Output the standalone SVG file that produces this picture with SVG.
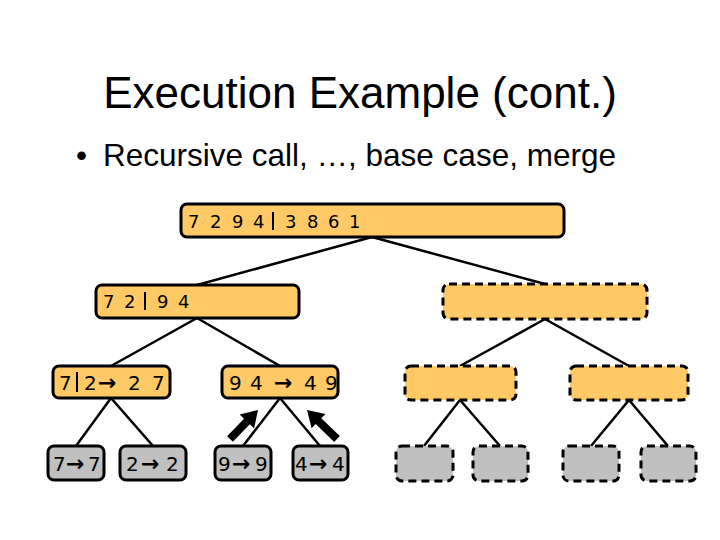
<svg xmlns="http://www.w3.org/2000/svg" width="720" height="540" viewBox="0 0 720 540">
<style>
.title{font-family:"Liberation Sans",Arial,sans-serif;font-size:44px;fill:#000}
.bul{font-family:"Liberation Sans",Arial,sans-serif;font-size:31.5px;fill:#000}
.or{fill:#FFCA66;stroke:#000;stroke-width:3}
.gr{fill:#C0C0C0;stroke:#000;stroke-width:3}
.dash{stroke-dasharray:8 5}
.t{font-family:"DejaVu Sans",Verdana,sans-serif;font-size:18px;fill:#000}
.t3{font-family:"DejaVu Sans",Verdana,sans-serif;font-size:20px;fill:#000}
.ar{font-size:22px;font-weight:bold}
.bar{stroke:#000;stroke-width:2}
.c line{stroke:#000;stroke-width:2.5}
.big{fill:#000}
</style>
<rect width="720" height="540" fill="#fff"/>
<text class="title" x="360" y="108" text-anchor="middle">Execution Example (cont.)</text>
<text class="bul" x="76" y="166">•</text>
<text class="bul" x="103" y="166">Recursive call, …, base case, merge</text>

<g id="connectors" class="c">
<line x1="372" y1="237" x2="197" y2="285"/>
<line x1="372" y1="237" x2="545" y2="284"/>
<line x1="197" y1="318" x2="111" y2="366"/>
<line x1="197" y1="318" x2="280" y2="366"/>
<line x1="545" y1="319" x2="460" y2="366"/>
<line x1="545" y1="319" x2="629" y2="366"/>
<line x1="111" y1="398" x2="76" y2="446"/>
<line x1="111" y1="398" x2="153" y2="446"/>
<line x1="280" y1="398" x2="243" y2="446"/>
<line x1="280" y1="398" x2="320" y2="446"/>
<line x1="460" y1="400" x2="424" y2="446"/>
<line x1="460" y1="400" x2="500" y2="446"/>
<line x1="629" y1="400" x2="591" y2="446"/>
<line x1="629" y1="400" x2="668" y2="446"/>
<polygon class="big" points="232.9,441.8 249.8,424.3 254.1,428.5 258,410 239.7,414.6 244.0,418.7 227.1,436.2"/>
<polygon class="big" points="339.8,436.1 321.3,418.2 325.5,413.9 307,410 311.6,428.3 315.7,424.0 334.2,441.9"/>
</g>

<g id="root">
<rect class="or" x="181" y="204" width="383" height="33" rx="6"/>
<text class="t" x="188 210 232 253" y="228">7294</text>
<line class="bar" x1="273" y1="212" x2="273" y2="230"/>
<text class="t" x="285 307 328 349" y="228">3861</text>
</g>

<g id="mid-left">
<rect class="or" x="96" y="285" width="203" height="33" rx="6"/>
<text class="t" x="103 124" y="308">72</text>
<line class="bar" x1="145" y1="292" x2="145" y2="310"/>
<text class="t" x="157 178" y="308">94</text>
</g>

<g id="mid-right">
<rect class="or dash" x="443" y="284" width="204" height="35" rx="6"/>
</g>

<g id="l3-a">
<rect class="or" x="53" y="366" width="117" height="32" rx="6"/>
<text class="t3" x="59" y="390">7</text>
<line class="bar" x1="77" y1="372" x2="77" y2="392"/>
<text class="t3" y="390"><tspan x="84">2</tspan><tspan class="ar" x="98">→</tspan><tspan x="128">2</tspan><tspan x="152">7</tspan></text>
</g>

<g id="l3-b">
<rect class="or" x="222" y="366" width="116" height="32" rx="6"/>
<text class="t3" y="390"><tspan x="229">9</tspan><tspan x="250">4</tspan><tspan class="ar" x="274">→</tspan><tspan x="304">4</tspan><tspan x="325">9</tspan></text>
</g>

<g id="l3-c">
<rect class="or dash" x="405" y="366" width="111" height="34" rx="6"/>
</g>
<g id="l3-d">
<rect class="or dash" x="570" y="366" width="118" height="34" rx="6"/>
</g>

<g id="leaf-1">
<rect class="gr" x="48" y="446" width="56" height="34" rx="6"/>
<text class="t3" y="471"><tspan x="53">7</tspan><tspan class="ar" x="66">→</tspan><tspan x="88">7</tspan></text>
</g>
<g id="leaf-2">
<rect class="gr" x="120" y="446" width="66" height="34" rx="6"/>
<text class="t3" y="471"><tspan x="126">2</tspan><tspan class="ar" x="141">→</tspan><tspan x="166">2</tspan></text>
</g>
<g id="leaf-3">
<rect class="gr" x="215" y="446" width="56" height="34" rx="6"/>
<text class="t3" y="471"><tspan x="218">9</tspan><tspan class="ar" x="232">→</tspan><tspan x="255">9</tspan></text>
</g>
<g id="leaf-4">
<rect class="gr" x="293" y="446" width="55" height="34" rx="6"/>
<text class="t3" y="471"><tspan x="295">4</tspan><tspan class="ar" x="309">→</tspan><tspan x="332">4</tspan></text>
</g>
<g id="leaf-5"><rect class="gr dash" x="396" y="446" width="57" height="35" rx="6"/></g>
<g id="leaf-6"><rect class="gr dash" x="473" y="446" width="55" height="35" rx="6"/></g>
<g id="leaf-7"><rect class="gr dash" x="563" y="446" width="56" height="35" rx="6"/></g>
<g id="leaf-8"><rect class="gr dash" x="641" y="446" width="55" height="35" rx="6"/></g>
</svg>
